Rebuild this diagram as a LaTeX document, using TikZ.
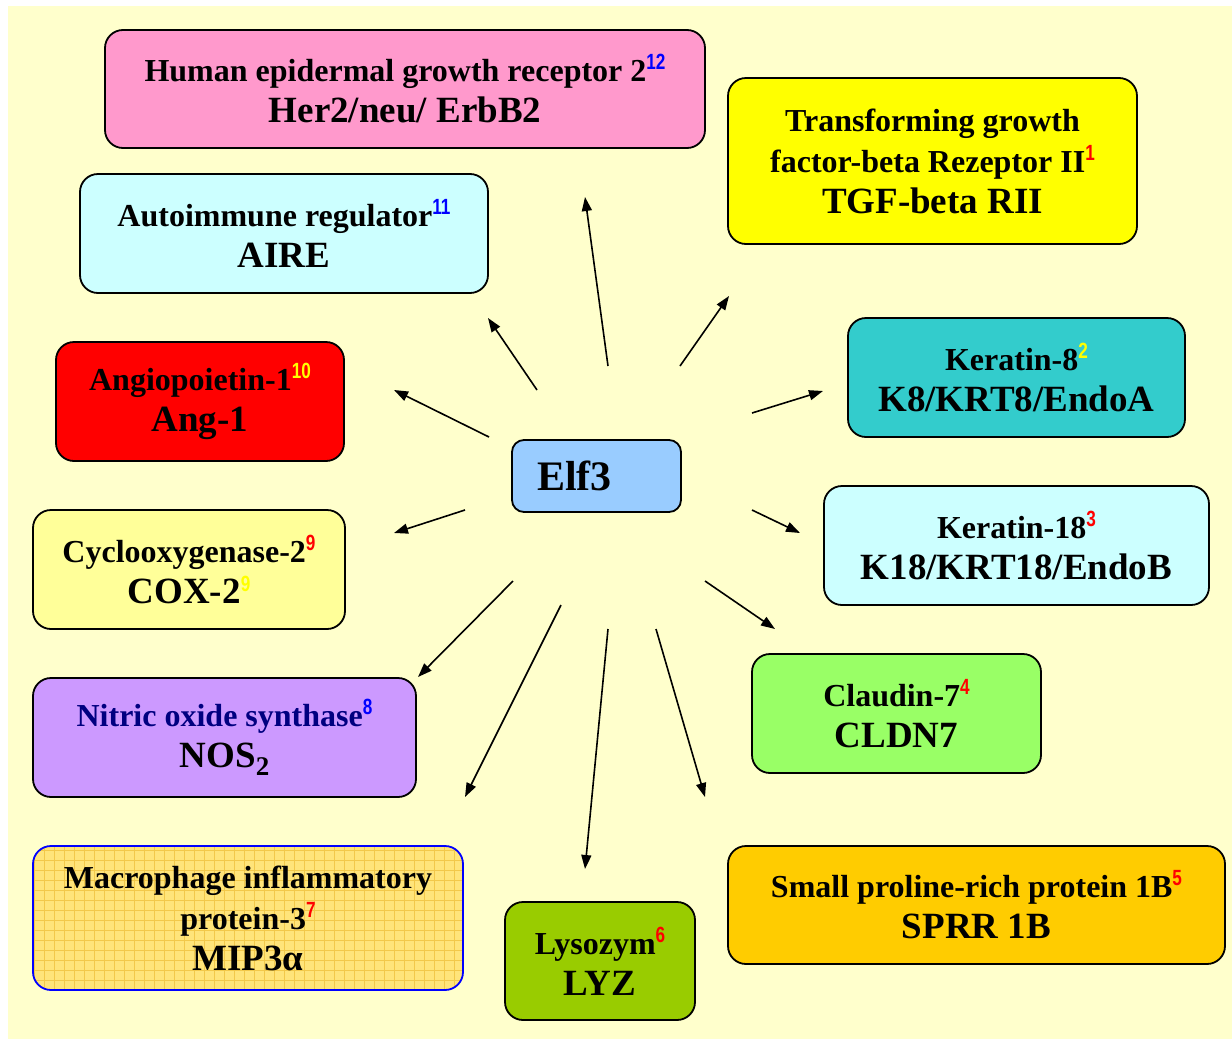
\documentclass[tikz,border=0pt]{standalone}
\usepackage{fontspec}
\usepackage{graphicx}
\setmainfont{Liberation Serif}
\newfontfamily\refnumfont{Liberation Sans}
\usetikzlibrary{arrows.meta}

\definecolor{bgyellow}{HTML}{FFFFCC}
\definecolor{her2col}{HTML}{FF99CC}
\definecolor{tgfcol}{HTML}{FFFF00}
\definecolor{airecol}{HTML}{CCFFFF}
\definecolor{k8col}{HTML}{33CCCC}
\definecolor{angcol}{HTML}{FF0000}
\definecolor{elfcol}{HTML}{99CCFF}
\definecolor{k18col}{HTML}{CCFFFF}
\definecolor{coxcol}{HTML}{FFFF99}
\definecolor{cldncol}{HTML}{99FF66}
\definecolor{noscol}{HTML}{CC99FF}
\definecolor{mipcol}{HTML}{FFE47A}
\definecolor{mipgrid}{HTML}{F2C84A}
\definecolor{lyzcol}{HTML}{99CC00}
\definecolor{sprrcol}{HTML}{FFCC00}
\definecolor{refblue}{HTML}{0000FF}
\definecolor{refred}{HTML}{FF0000}
\definecolor{refyellow}{HTML}{FFFF00}
\definecolor{navytext}{HTML}{000080}

% text sizes (1pt = 1px of the reference)
\newcommand{\namesize}{\fontsize{32}{41}\selectfont}
\newcommand{\symsize}{\fontsize{37}{41}\selectfont}
\newcommand{\refnum}[2]{\raisebox{12pt}{\refnumfont\fontsize{22}{22}\selectfont\scalebox{0.78}[1]{\textcolor{#1}{#2}}}}

\tikzset{
  genebox/.style={draw=black, line width=1.8pt, rounded corners=18pt,
    align=center, font=\bfseries\namesize, inner sep=0pt},
  arr/.style={-{Triangle[length=14pt,width=10pt]}, line width=1.6pt}
}

\begin{document}
\begin{tikzpicture}[x=1pt, y=-1pt]

\useasboundingbox (0,0) rectangle (1232,1039);
\fill[bgyellow] (8,6) rectangle (1232,1039);

% Central factor
\node[genebox, fill=elfcol, minimum width=169pt, minimum height=72pt,
  text width=119pt, align=left, inner xsep=25pt, rounded corners=12pt,
  font=\bfseries\fontsize{42}{42}\selectfont] (elf3) at (596.5,476) {Elf3};

% Target genes
\node[genebox, fill=her2col, minimum width=600pt, minimum height=118pt] (her2) at (405,89)
  {Human epidermal growth receptor 2\refnum{refblue}{12}\\ \symsize Her2/neu/ ErbB2};
\node[genebox, fill=tgfcol, minimum width=409pt, minimum height=166pt] (tgf) at (932.5,161)
  {Transforming growth\\ factor-beta Rezeptor II\refnum{refred}{1}\\ \symsize TGF-beta RII};
\node[genebox, fill=airecol, minimum width=408pt, minimum height=119pt] (aire) at (284,233.5)
  {Autoimmune regulator\refnum{refblue}{11}\\ \symsize AIRE};
\node[genebox, fill=k8col, minimum width=337pt, minimum height=119pt] (k8) at (1016.5,377.5)
  {Keratin-8\refnum{refyellow}{2}\\ \symsize K8/KRT8/EndoA};
\node[genebox, fill=angcol, minimum width=288pt, minimum height=119pt] (ang1) at (200,401.5)
  {Angiopoietin-1\refnum{refyellow}{10}\\ \symsize Ang-1};
\node[genebox, fill=k18col, minimum width=385pt, minimum height=119pt] (k18) at (1016.5,545.5)
  {Keratin-18\refnum{refred}{3}\\ \symsize K18/KRT18/EndoB};
\node[genebox, fill=coxcol, minimum width=312pt, minimum height=119pt] (cox2) at (189,569.5)
  {Cyclooxygenase-2\refnum{refred}{9}\\ \symsize COX-2\refnum{refyellow}{9}};
\node[genebox, fill=cldncol, minimum width=289pt, minimum height=119pt] (cldn7) at (896.5,713.5)
  {Claudin-7\refnum{refred}{4}\\ \symsize CLDN7};
\node[genebox, fill=noscol, minimum width=383pt, minimum height=119pt] (nos2) at (224.5,737.5)
  {\textcolor{navytext}{Nitric oxide synthase}\refnum{refblue}{8}\\ \symsize NOS\raisebox{-0.2em}{\fontsize{27}{27}\selectfont 2}};
\node[genebox, draw=refblue, fill=mipcol, minimum width=430pt, minimum height=144pt,
  path picture={\draw[mipgrid, line width=0.6pt]
    (path picture bounding box.south west) grid[step=10pt] (path picture bounding box.north east);}]
  (mip3) at (248,918)
  {Macrophage inflammatory\\ protein-3\refnum{refred}{7}\\ \symsize MIP3α};
\node[genebox, fill=lyzcol, minimum width=190pt, minimum height=118pt] (lyz) at (600,961)
  {Lysozym\refnum{refred}{6}\\ \symsize LYZ};
\node[genebox, fill=sprrcol, minimum width=497pt, minimum height=118pt] (sprr) at (976.5,905)
  {Small proline-rich protein 1B\refnum{refred}{5}\\ \symsize SPRR 1B};

% Arrow ends around Elf3
\coordinate (her2-tail) at (608,366);  \coordinate (her2-tip) at (585,197);
\coordinate (tgf-tail) at (680,366);   \coordinate (tgf-tip) at (729,296);
\coordinate (aire-tail) at (537,390);  \coordinate (aire-tip) at (488,318);
\coordinate (k8-tail) at (752,413);    \coordinate (k8-tip) at (823,391);
\coordinate (ang1-tail) at (489,437);  \coordinate (ang1-tip) at (394,390);
\coordinate (k18-tail) at (752,510);   \coordinate (k18-tip) at (800,533);
\coordinate (cox2-tail) at (465,510);  \coordinate (cox2-tip) at (394,533);
\coordinate (cldn7-tail) at (705,581); \coordinate (cldn7-tip) at (775,629);
\coordinate (nos2-tail) at (513,581);  \coordinate (nos2-tip) at (418,677);
\coordinate (sprr-tail) at (656,629);  \coordinate (sprr-tip) at (705,797);
\coordinate (mip3-tail) at (561,605);  \coordinate (mip3-tip) at (465,797);
\coordinate (lyz-tail) at (608,629);   \coordinate (lyz-tip) at (585,869);

% Arrows
\draw[arr] (her2-tail) -- (her2-tip);
\draw[arr] (tgf-tail) -- (tgf-tip);
\draw[arr] (aire-tail) -- (aire-tip);
\draw[arr] (k8-tail) -- (k8-tip);
\draw[arr] (ang1-tail) -- (ang1-tip);
\draw[arr] (k18-tail) -- (k18-tip);
\draw[arr] (cox2-tail) -- (cox2-tip);
\draw[arr] (cldn7-tail) -- (cldn7-tip);
\draw[arr] (nos2-tail) -- (nos2-tip);
\draw[arr] (sprr-tail) -- (sprr-tip);
\draw[arr] (mip3-tail) -- (mip3-tip);
\draw[arr] (lyz-tail) -- (lyz-tip);

\end{tikzpicture}
\end{document}
